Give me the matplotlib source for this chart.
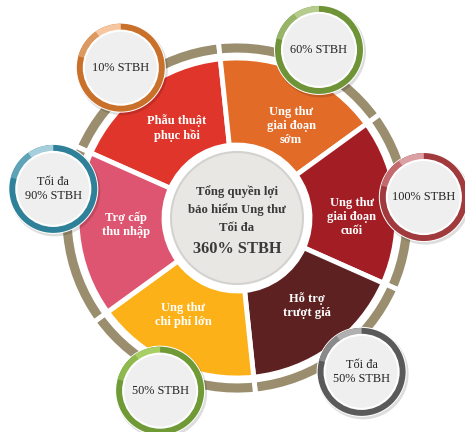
import matplotlib
matplotlib.use("Agg")
import matplotlib.pyplot as plt
from matplotlib.patches import Circle, Wedge
import numpy as np

plt.rcParams['font.family'] = ['Liberation Serif', 'DejaVu Serif']

# main wheel, clockwise from top-left
segments = ["Phẫu thuật\nphục hồi", "Ung thư\ngiai đoạn\nsớm", "Ung thư\ngiai đoạn\ncuối",
            "Hỗ trợ\ntrượt giá", "Ung thư\nchi phí lớn", "Trợ cấp\nthu nhập"]
shares = [1, 1, 1, 1, 1, 1]
seg_colors = ["#e0352b", "#e26b27", "#a31e24", "#5e2121", "#fbb117", "#dd5570"]
label_angle = [123.7, 59.6, 0.5, -51.5, -119, 183.6]
label_r = [108, 107, 115, 112, 111, 111]

# benefit badges, one per segment
badge_labels = ["10% STBH", "60% STBH", "100% STBH", "Tối đa\n50% STBH", "50% STBH", "Tối đa\n90% STBH"]
badge_angle = [127.7, 64, 6.4, -51, -114, 171]
badge_dist = [190, 187, 188, 198, 189, 186]
badge_main = ["#c9712b", "#6f9437", "#a13a3d", "#5a5a5a", "#6f9a35", "#2f8199"]
badge_mid = ["#dc9a62", "#97b468", "#c46a6e", "#8a8a8a", "#8fb84e", "#5fa3b8"]
badge_light = ["#f5c6a0", "#b6cc8f", "#dba0a4", "#b0b0b0", "#a8cf64", "#a6cfdc"]

center_lines = ["Tổng quyền lợi", "bảo hiểm Ung thư", "Tối đa"]
center_total = "360% STBH"

W, H = 465, 432
cx, cy = 237, 214

fig = plt.figure(figsize=(W / 100, H / 100), dpi=100)
ax = fig.add_axes([0, 0, 1, 1])

# outer tan ring
ax.pie(shares, radius=177, center=(cx, cy), startangle=156, counterclock=False,
       colors=["#9b8e6e"] * 6, frame=True,
       wedgeprops=dict(width=14, edgecolor="white", linewidth=3.5))

# segments
wedges, texts = ax.pie(shares, radius=160, center=(cx, cy), startangle=156, counterclock=False,
                       colors=seg_colors, labels=segments, frame=True,
                       wedgeprops=dict(width=87, edgecolor="white", linewidth=3.5),
                       textprops=dict(color="white", fontsize=9, fontweight="bold", linespacing=1.2))
for t, a, r in zip(texts, label_angle, label_r):
    t.set_position((cx + r * np.cos(np.radians(a)), cy + r * np.sin(np.radians(a))))
    t.set_ha("center")
    t.set_va("center")

# centre disc
ax.add_patch(Circle((cx, cy), 66, fc="#e8e7e3", ec="#d3d2ce", lw=1.5, zorder=3))
ys = [cy + 26, cy + 8, cy - 10]
for s, y in zip(center_lines, ys):
    ax.text(cx, y, s, ha="center", va="center", fontsize=9.2, fontweight="bold", color="#3a3a3a", zorder=4)
ax.text(cx, cy - 31, center_total, ha="center", va="center", fontsize=11.8, fontweight="bold",
        color="#3a3a3a", zorder=4)

# badges
for lab, a, d, c1, c2, c3 in zip(badge_labels, badge_angle, badge_dist, badge_main, badge_mid, badge_light):
    bx = cx + d * np.cos(np.radians(a))
    by = cy + d * np.sin(np.radians(a))
    ax.add_patch(Circle((bx + 1.5, by - 2), 45.5, fc="#00000022", ec="none", zorder=5))
    ax.add_patch(Circle((bx, by), 45, fc="white", ec="none", zorder=5))
    ax.add_patch(Wedge((bx, by), 44, 0, 360, width=7, fc=c1, ec="none", zorder=6))
    ax.add_patch(Wedge((bx, by), 44, 125, 165, width=7, fc=c2, ec="none", zorder=6))
    ax.add_patch(Wedge((bx, by), 44, 90, 125, width=7, fc=c3, ec="none", zorder=6))
    ax.add_patch(Circle((bx, by), 37, fc="#efefef", ec="white", lw=1.5, zorder=7))
    ax.text(bx, by, lab, ha="center", va="center", fontsize=8.8, color="#222222",
            linespacing=1.25, zorder=8)

ax.set_xlim(0, W)
ax.set_ylim(0, H)
ax.set_aspect("equal")
ax.axis("off")
fig.savefig("out.png", dpi=100, facecolor="white")
